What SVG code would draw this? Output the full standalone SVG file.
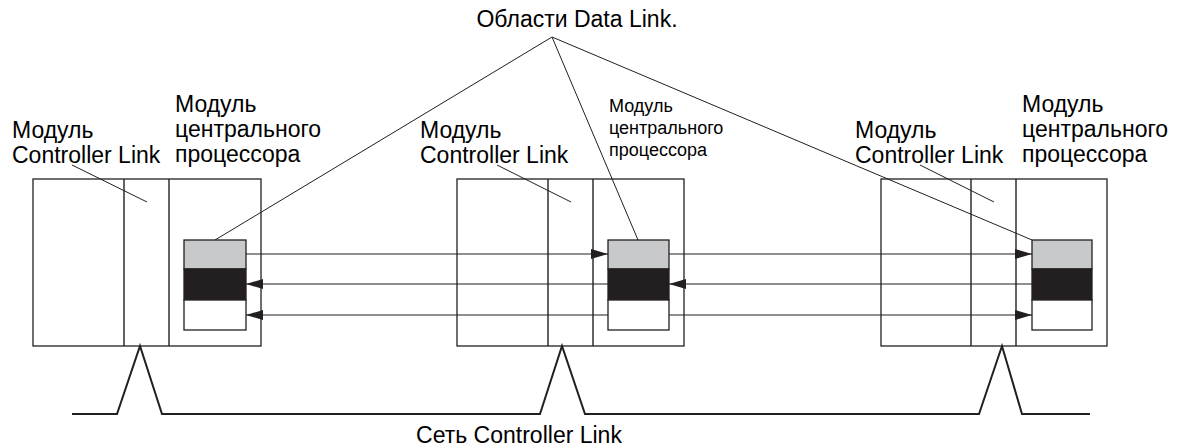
<svg xmlns="http://www.w3.org/2000/svg" width="1180" height="448" viewBox="0 0 1180 448">
<defs>
<marker id="ah" viewBox="0 0 17 10" refX="17" refY="5" markerWidth="17" markerHeight="10" markerUnits="userSpaceOnUse" orient="auto">
<path d="M0,0 L17,5 L0,10 Z" fill="#231f20"/>
</marker>
<style>
.frame{fill:#fff;stroke:#231f20;stroke-width:1.3}
.div{stroke:#231f20;stroke-width:1.4;fill:none}
.ld{stroke:#231f20;stroke-width:1;fill:none}
.ar{stroke:#231f20;stroke-width:1.2;fill:none;marker-end:url(#ah)}
.net{stroke:#231f20;stroke-width:2;fill:none;stroke-linejoin:miter}
.g{fill:#c8c9ca;stroke:#231f20;stroke-width:1.3}
.b{fill:#231f20;stroke:#231f20;stroke-width:1.3}
.w{fill:#fff;stroke:#231f20;stroke-width:1.3}
.t{font-family:"Liberation Sans",Arial,sans-serif;font-size:23px;fill:#000}
.ts{font-family:"Liberation Sans",Arial,sans-serif;font-size:18px;fill:#000}
</style>
</defs>
<rect width="1180" height="448" fill="#fff"/>

<g id="unit-left">
<rect class="frame" x="33" y="179" width="228" height="167"/>
<line class="div" x1="124" y1="179" x2="124" y2="346"/>
<line class="div" x1="169" y1="179" x2="169" y2="346"/>
</g>
<g id="unit-middle">
<rect class="frame" x="457" y="179" width="227" height="167"/>
<line class="div" x1="548" y1="179" x2="548" y2="346" stroke-width="1.8"/>
<line class="div" x1="593" y1="179" x2="593" y2="346" stroke-width="1.8"/>
</g>
<g id="unit-right">
<rect class="frame" x="881" y="179" width="226" height="167"/>
<line class="div" x1="971" y1="179" x2="971" y2="346"/>
<line class="div" x1="1016" y1="179" x2="1016" y2="346"/>
</g>

<g id="connectors">
<line class="ar" x1="246" y1="254" x2="608" y2="254"/>
<line class="ar" x1="669" y1="254" x2="1032" y2="254"/>
<line class="ar" x1="1032" y1="284" x2="669" y2="284"/>
<line class="ar" x1="608" y1="284" x2="246" y2="284"/>
<line class="ar" x1="608" y1="315" x2="246" y2="315"/>
<line class="ar" x1="669" y1="315" x2="1032" y2="315"/>
<line class="ld" x1="552" y1="37" x2="215" y2="240"/>
<line class="ld" x1="552" y1="37" x2="638" y2="240"/>
<line class="ld" x1="552" y1="37" x2="1032" y2="240"/>
<line class="ld" x1="72" y1="165" x2="147" y2="202"/>
<line class="ld" x1="497" y1="165" x2="571" y2="202"/>
<line class="ld" x1="920" y1="165" x2="994" y2="202"/>
<polyline class="net" points="72,414 117,414 140,346 162,414 540,414 562,346 585,414 979,414 1002,346 1022,414 1090,414"/>
</g>

<g id="block-left">
<rect class="g" x="184" y="240" width="62" height="29"/>
<rect class="b" x="184" y="269" width="62" height="31"/>
<rect class="w" x="184" y="300" width="62" height="30"/>
</g>
<g id="block-middle">
<rect class="g" x="608" y="240" width="61" height="29"/>
<rect class="b" x="608" y="269" width="61" height="31"/>
<rect class="w" x="608" y="300" width="61" height="30"/>
</g>
<g id="block-right">
<rect class="g" x="1032" y="240" width="60" height="29"/>
<rect class="b" x="1032" y="269" width="60" height="31"/>
<rect class="w" x="1032" y="300" width="60" height="30"/>
</g>

<g id="labels">
<text class="t" x="577" y="27" text-anchor="middle">Области Data Link.</text>
<text class="t" x="12" y="138">Модуль</text>
<text class="t" x="12" y="163">Controller Link</text>
<text class="t" x="175" y="112">Модуль</text>
<text class="t" x="175" y="137">центрального</text>
<text class="t" x="175" y="162">процессора</text>
<text class="t" x="420" y="138">Модуль</text>
<text class="t" x="420" y="163">Controller Link</text>
<text class="ts" x="609" y="112">Модуль</text>
<text class="ts" x="609" y="134">центрального</text>
<text class="ts" x="609" y="156">процессора</text>
<text class="t" x="855" y="138">Модуль</text>
<text class="t" x="855" y="163">Controller Link</text>
<text class="t" x="1022" y="112">Модуль</text>
<text class="t" x="1022" y="137">центрального</text>
<text class="t" x="1022" y="162">процессора</text>
<text class="t" x="519" y="443" text-anchor="middle">Сеть Controller Link</text>
</g>
</svg>
